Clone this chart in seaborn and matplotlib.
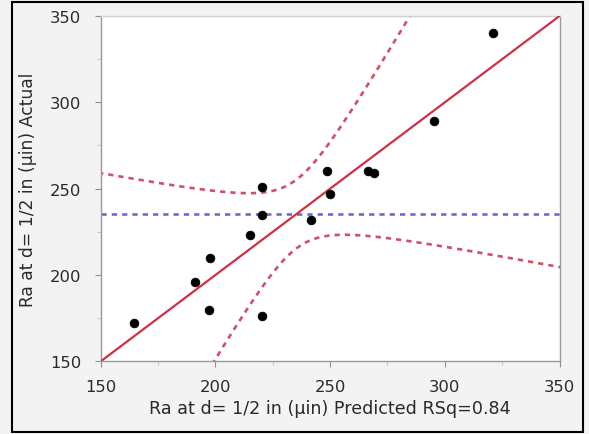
import numpy as np
import pandas as pd
import seaborn as sns
import matplotlib.pyplot as plt
from matplotlib.patches import Rectangle

# actual by predicted values
predicted = [164.3, 191.3, 197.8, 197.4, 215.2, 220.4, 220.4, 220.4, 241.7, 248.7, 250.0, 266.5, 269.0, 295.2, 320.9]
actual = [172, 196, 210, 180, 223, 251, 235, 176, 232, 260, 247, 260, 259, 289, 340]

# model info for the leverage-plot confidence curves
n_terms = 9            # model terms besides intercept
t_crit = 2.5706        # t(0.025, dfE=5)
f_crit = 4.772         # F(0.05, 9, 5)

ticks = [150, 200, 250, 300, 350]
minor_ticks = [175, 225, 275, 325]

sns.set_theme(style="white")
plt.rcParams["font.family"] = ["DejaVu Sans"]

df = pd.DataFrame({"predicted": predicted, "actual": actual})
n = len(df)
ybar = df["actual"].mean()
sse = ((df["actual"] - df["predicted"]) ** 2).sum()
sst = ((df["actual"] - ybar) ** 2).sum()
df_err = n - n_terms - 1
s2 = sse / df_err
f_stat = ((sst - sse) / n_terms) / s2

z = np.linspace(140, 360, 400)
half = np.sqrt(t_crit ** 2 * s2 / n + (f_crit / f_stat) * (z - ybar) ** 2)
curves = pd.DataFrame({"z": z, "fit": z, "upper": z + half, "lower": z - half})

fig = plt.figure(figsize=(5.89, 4.35), dpi=100)
fig.patch.set_facecolor("#f3f3f3")
ax = fig.add_axes([0.171, 0.167, 0.779, 0.794])
ax.set_facecolor("white")

red = "#cf3045"
band = "#d0506a"
blue = "#6a6ad8"

ax.axhline(ybar, color=blue, lw=1.9, ls=(0, (2.0, 1.9)), zorder=2)
sns.lineplot(data=curves, x="z", y="upper", ax=ax, color=band, lw=1.9, zorder=2)
sns.lineplot(data=curves, x="z", y="lower", ax=ax, color=band, lw=1.9, zorder=2)
for line in ax.lines[1:]:
    line.set_linestyle((0, (2.0, 1.9)))
sns.lineplot(data=curves, x="z", y="fit", ax=ax, color=red, lw=1.6, zorder=3)
sns.scatterplot(data=df, x="predicted", y="actual", ax=ax, color="black", s=40,
                edgecolor="black", linewidth=0.5, zorder=4)

ax.set_xlim(150, 350)
ax.set_ylim(150, 350)
ax.set_xticks(ticks)
ax.set_yticks(ticks)
ax.set_xticks(minor_ticks, minor=True)
ax.set_yticks(minor_ticks, minor=True)
ax.tick_params(axis="both", which="major", length=4, width=0.8, color="#909090",
               labelsize=11.8, labelcolor="#2a2a2a", bottom=True, left=True)
ax.tick_params(axis="x", which="major", pad=9)
ax.tick_params(axis="y", which="major", pad=10)
ax.tick_params(axis="both", which="minor", length=3, width=0.8, color="#c8c8c8",
               bottom=True, left=True)

for side in ["left", "bottom", "right"]:
    ax.spines[side].set_color("#9a9a9a")
    ax.spines[side].set_linewidth(1.0)
ax.spines["top"].set_color("#d0d0d0")
ax.spines["top"].set_linewidth(1.0)

ax.set_xlabel("Ra at d= 1/2 in (µin) Predicted RSq=0.84", fontsize=12.6, color="#2a2a2a", labelpad=3)
ax.set_ylabel("Ra at d= 1/2 in (µin) Actual", fontsize=12.3, color="#2a2a2a", labelpad=9)

fig.patches.append(Rectangle((12 / 589, 2 / 435), 571 / 589, 430 / 435, transform=fig.transFigure,
                             fill=False, edgecolor="black", linewidth=1.5))

fig.savefig("out.png", dpi=100, facecolor=fig.get_facecolor())
